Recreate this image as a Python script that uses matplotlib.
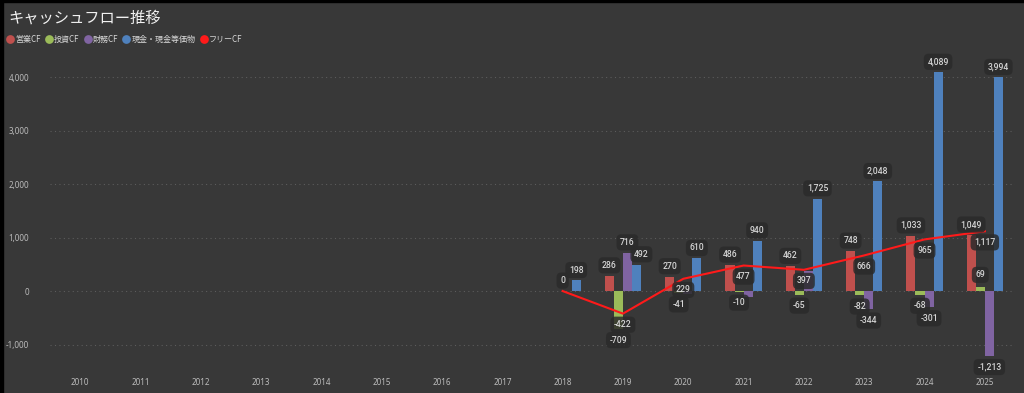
import numpy as np
import matplotlib
matplotlib.use("Agg")
import matplotlib.pyplot as plt
from matplotlib.lines import Line2D
from matplotlib.patches import Rectangle

plt.rcParams['font.family'] = ['Noto Sans CJK JP', 'DejaVu Sans']

years = list(range(2010, 2026))
series_names = ['営業CF', '投資CF', '財務CF', '現金・現金等価物']
free_name = 'フリーCF'
N = None
op_cf   = [N]*8 + [N,    286,  270,  486,  462,  748, 1033, 1049]
inv_cf  = [N]*8 + [N,   -709,  -41,  -10,  -65,  -82,  -68,   69]
fin_cf  = [N]*8 + [N,    716,  -50, -120,  375, -344, -301, -1213]
cash    = [N]*8 + [198,  492,  610,  940, 1725, 2048, 4089, 3994]
free_cf = [N]*8 + [0,   -422,  229,  477,  397,  666,  965, 1117]

# data labels hidden in the reference (overlap avoidance): (series index, year)
hidden_labels = {(2, 2020), (2, 2021), (2, 2022)}
# small label nudges (points) as in the reference
label_nudge = {(3, 2019): (3.5, 0), (1, 2025): (0, 1.5)}

bar_colors = ['#C0504D', '#9BBB59', '#8064A2', '#4F81BD']
free_color = '#FF1A1A'
bg = '#383838'

fig = plt.figure(figsize=(10.24, 3.93), dpi=100, facecolor=bg)
ax = fig.add_axes([0.0488, 0.0552, 0.9424, 0.8033], facecolor=bg)

x = np.arange(len(years))
w = 0.15
offsets = [-1.5 * w, -0.5 * w, 0.5 * w, 1.5 * w]
all_series = [op_cf, inv_cf, fin_cf, cash]

label_kw = dict(fontsize=6.2, color='#D6D6D6', ha='center', va='center',
                family=['Roboto', 'DejaVu Sans'], fontweight='medium',
                bbox=dict(boxstyle='round,pad=0.42,rounding_size=0.55',
                          fc='#2B2B2B', ec='none', alpha=0.85), zorder=6)

for si, (vals, col, off) in enumerate(zip(all_series, bar_colors, offsets)):
    pts = [(xi + off, v, yr) for xi, v, yr in zip(x, vals, years) if v is not None]
    ax.bar([p[0] for p in pts], [p[1] for p in pts], width=w, color=col, zorder=3)
    for xi, v, yr in pts:
        if (si, yr) in hidden_labels:
            continue
        dx, ddy = label_nudge.get((si, yr), (0, 0))
        dy = 7.5 if v >= 0 else -8
        ax.annotate(f'{v:,}', (xi, v), xytext=(dx, dy + ddy), textcoords='offset points',
                    **label_kw)

fx = [xi for xi, v in zip(x, free_cf) if v is not None]
fv = [v for v in free_cf if v is not None]
ax.plot(fx, fv, color=free_color, lw=1.5, zorder=5)
for xi, v in zip(fx, fv):
    dy = 7.5 if v == 0 else -8
    ax.annotate(f'{v:,}', (xi, v), xytext=(0, dy), textcoords='offset points',
                **label_kw)

ax.set_xlim(-0.5, len(years) - 0.5)
ax.set_ylim(-1500, 4400)
yt = [-1000, 0, 1000, 2000, 3000, 4000]
ax.set_yticks(yt)
ax.set_yticklabels([f'{t:,}' for t in yt])
ax.set_xticks(x)
ax.set_xticklabels([str(y) for y in years])
ax.tick_params(axis='both', length=0, colors='#BBBBBB', labelsize=5.8)
ax.tick_params(axis='y', pad=15)
ax.tick_params(axis='x', pad=5)
for lab in ax.get_xticklabels() + ax.get_yticklabels():
    lab.set_family(['Noto Sans', 'DejaVu Sans'])
ax.grid(axis='y', color='#5C5C5C', linestyle=(0, (1, 3)), linewidth=0.8, zorder=0)
for s in ax.spines.values():
    s.set_visible(False)

# title
fig.text(0.008, 0.955, 'キャッシュフロー推移', fontsize=11, color='#F2F2F2',
         ha='left', va='center')

# legend
handles = [Line2D([], [], marker='o', linestyle='none', markersize=6.3,
                  markerfacecolor=c, markeredgecolor='none') for c in bar_colors]
handles.append(Line2D([], [], marker='o', linestyle='none', markersize=6.3,
                      markerfacecolor=free_color, markeredgecolor='none'))
leg = fig.legend(handles, series_names + [free_name], loc='center left',
                 bbox_to_anchor=(0.0075, 0.9), ncol=5, frameon=False,
                 fontsize=5.8, handlelength=0.6, handletextpad=0.3,
                 columnspacing=0.75, borderaxespad=0, borderpad=0)
for t in leg.get_texts():
    t.set_color('#D8D8D8')

# black frame strips (top and left)
fig.patches.append(Rectangle((0, 0), 3 / 1024, 1, transform=fig.transFigure,
                             color='black', zorder=10))
fig.patches.append(Rectangle((0, 1 - 2 / 393), 1, 2 / 393, transform=fig.transFigure,
                             color='black', zorder=10))

fig.savefig('out.png', dpi=100, facecolor=bg)
